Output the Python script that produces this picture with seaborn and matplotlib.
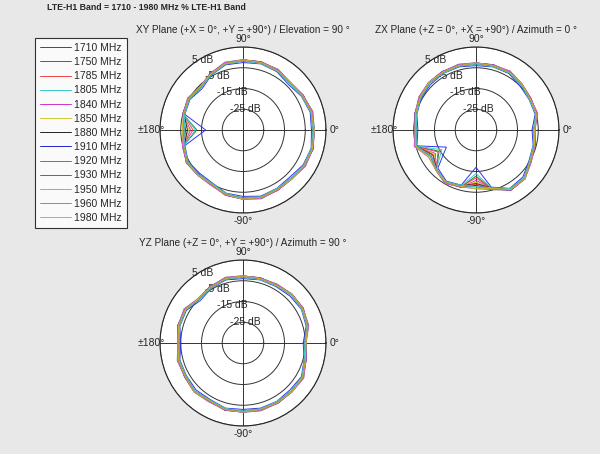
import numpy as np
import matplotlib
matplotlib.use("Agg")
import matplotlib.pyplot as plt
import seaborn as sns

sns.set_style("white")
plt.rcParams['font.family'] = ['Liberation Sans', 'DejaVu Sans']

freqs = ['1710 MHz', '1750 MHz', '1785 MHz', '1805 MHz', '1840 MHz', '1850 MHz', '1880 MHz',
         '1910 MHz', '1920 MHz', '1930 MHz', '1950 MHz', '1960 MHz', '1980 MHz']
colors = ['#3333ee', '#2e7d32', '#ee4444', '#33cccc', '#cc33cc', '#cccc33', '#222222',
          '#2222cc', '#558855', '#dd3333', '#44cccc', '#dd55dd', '#bbbb22']

angles_deg = [0, 15, 30, 45, 60, 75, 90, 105, 120, 135, 150, 165, 180,
              195, 210, 225, 240, 255, 270, 285, 300, 315, 330, 345]

# base gain patterns (dB)
xy_gain = [-1, -1, -2, -3, -2, -1.5, -1.5, -2, -4, -6, -5, -5.5, -10,
           -5.5, -4, -4.5, -5, -3, -2, -1.5, -2, -2, -1, -0.5]
zx_gain = [-7, -5, -5, -4, -3, -3, -3, -3, -3, -3, -4, -5, -6,
           -5, -14, -8, -6, -7, -12, -6, -2, -2, -5, -6]
yz_gain = [-5, -3, -2, -2, -3, -3, -3, -3, -4, -5, -3, -3, -4,
           -3, -3, -2, -3, -2, -2, -2, -2, -2, -2, -4]

# per-frequency level offsets and notch variations (dB)
freq_offset = [-1.0, 0.5, 0.3, 0.0, 0.6, 0.2, -0.2, 0.4, 0.8, 0.1, -0.4, 0.7, 0.3]
xy_notch = [-6, -3, -1, -2, 0, 1, 2, 2.5, 3, 3, 3.5, 3.5, 4]
zx_notch = [-4, -1, 0, -2, 1, 2, 3, 3.5, 4, 3, 4.5, 5, 5]

# title, gains, notch, notch indices, circle centre (px)
planes = [
    ('XY Plane (+X = 0°, +Y = +90°) / Elevation = 90 °', xy_gain, xy_notch, [12], (243, 130)),
    ('ZX Plane (+Z = 0°, +X = +90°) / Azimuth = 0 °', zx_gain, zx_notch, [14, 18], (476, 130)),
    ('YZ Plane (+Z = 0°, +Y = +90°) / Azimuth = 90 °', yz_gain, [0] * 13, [0], (243, 343)),
]
R = 83

fig = plt.figure(figsize=(6, 4.54), dpi=100)
fig.patch.set_facecolor('#e8e8e8')
fig.text(47 / 600, 1 - 8 / 454, 'LTE-H1 Band = 1710 - 1980 MHz % LTE-H1 Band', fontsize=6.3,
         fontweight='bold', va='center')

theta = np.deg2rad(angles_deg + [360])
handles = []
for title, gain, notch, notch_idx, (cx, cy) in planes:
    ax = fig.add_axes([(cx - R) / 600, (454 - cy - R) / 454, 2 * R / 600, 2 * R / 454],
                      projection='polar')
    ax.set_facecolor('white')
    for k, (f, c) in enumerate(zip(freqs, colors)):
        r = [g + freq_offset[k] * (0.5 + 0.5 * ((i + k) % 3 == 0)) for i, g in enumerate(gain)]
        for j in notch_idx:
            r[j] += notch[k]
        r = np.array(r + [r[0]])
        h, = ax.plot(theta, r, color=c, lw=0.7, label=f)
        if len(handles) < 13:
            handles.append(h)
    ax.set_ylim(-35, 5)
    ax.set_yticks([-25, -15, -5, 5])
    ax.set_yticklabels(['-25 dB', '-15 dB', '-5 dB', '5 dB'], fontsize=7.5)
    ax.set_rlabel_position(128)
    ax.set_xticks(np.deg2rad([0, 90, 180, 270]))
    ax.set_xticklabels(['0°', '90°', '±180°', '-90°'], fontsize=7.5)
    ax.tick_params(axis='x', pad=-4.5)
    ax.grid(True, color='#333333', lw=0.7)
    ax.spines['polar'].set_linewidth(0.8)
    fig.text(cx / 600, 1 - (cy - R - 17) / 454, title, fontsize=7.2, ha='center', va='center')

leg = fig.legend(handles=handles, loc='upper left', bbox_to_anchor=(30 / 600, 1 - 33 / 454),
                 fontsize=7.5, frameon=True, fancybox=False, edgecolor='black',
                 handlelength=3.0, handletextpad=0.3, labelspacing=0.4, borderpad=0.45)
leg.get_frame().set_linewidth(0.8)

fig.savefig('out.png', dpi=100, facecolor=fig.get_facecolor())
